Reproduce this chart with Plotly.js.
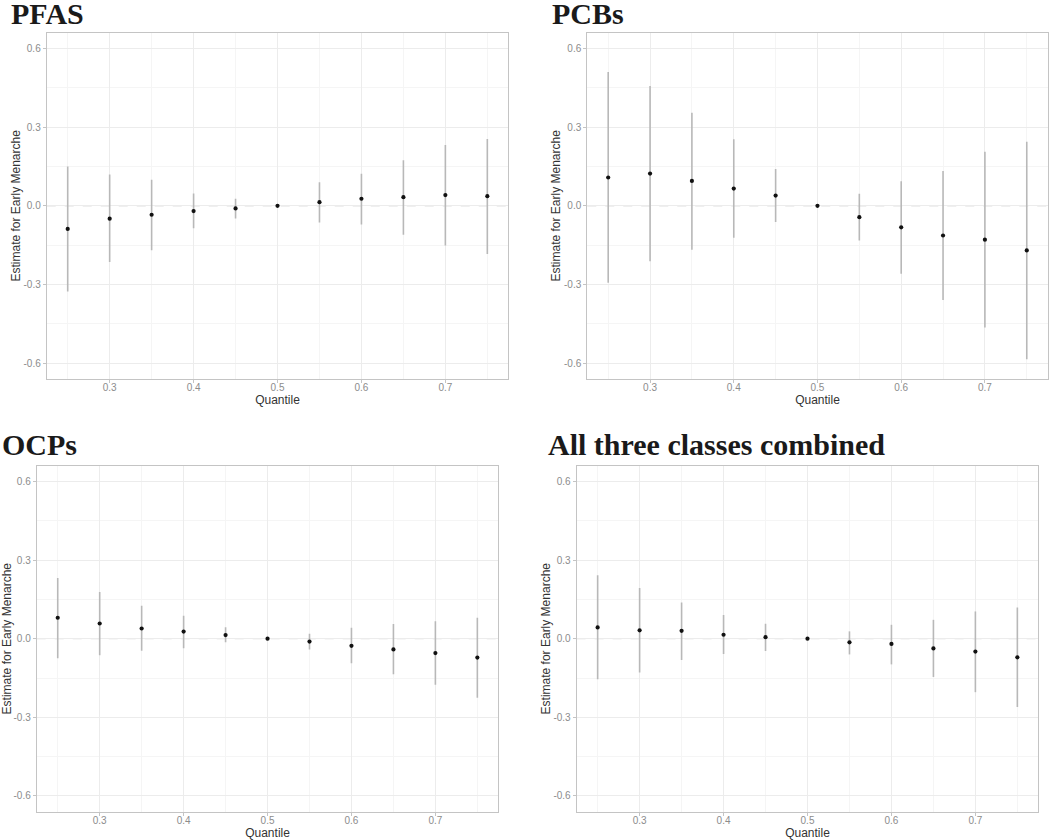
<!DOCTYPE html>
<html>
<head>
<meta charset="utf-8">
<script src="https://cdn.plot.ly/plotly-3.0.1.min.js"></script>
<style>
  html, body { margin: 0; padding: 0; background: #fff; }
  #chart { width: 1050px; height: 840px; }
</style>
</head>
<body>
<div id="chart"></div>
<script>
// Quantile g-computation estimates.
const QUANTILES = [0.25, 0.30, 0.35, 0.40, 0.45, 0.50, 0.55, 0.60, 0.65, 0.70, 0.75];

const PFAS_EST = [-0.088, -0.049, -0.034, -0.020, -0.010, 0, 0.014, 0.027, 0.033, 0.041, 0.037];
const PFAS_LO  = [-0.326, -0.214, -0.169, -0.085, -0.048, 0, -0.063, -0.071, -0.110, -0.151, -0.184];
const PFAS_HI  = [0.150, 0.119, 0.099, 0.047, 0.027, 0, 0.090, 0.122, 0.174, 0.232, 0.255];

const PCB_EST = [0.108, 0.123, 0.095, 0.066, 0.039, 0, -0.043, -0.082, -0.113, -0.129, -0.170];
const PCB_LO  = [-0.293, -0.211, -0.167, -0.122, -0.062, 0, -0.132, -0.259, -0.359, -0.464, -0.585];
const PCB_HI  = [0.510, 0.457, 0.355, 0.254, 0.140, 0, 0.046, 0.094, 0.133, 0.206, 0.244];

const OCP_EST = [0.080, 0.058, 0.039, 0.027, 0.014, 0, -0.011, -0.027, -0.041, -0.055, -0.072];
const OCP_LO  = [-0.075, -0.063, -0.046, -0.036, -0.014, 0, -0.041, -0.094, -0.136, -0.176, -0.225];
const OCP_HI  = [0.232, 0.178, 0.126, 0.088, 0.044, 0, 0.019, 0.042, 0.056, 0.067, 0.080];

const ALL_EST = [0.043, 0.032, 0.030, 0.015, 0.006, 0, -0.014, -0.020, -0.037, -0.049, -0.071];
const ALL_LO  = [-0.155, -0.129, -0.081, -0.058, -0.047, 0, -0.060, -0.098, -0.146, -0.204, -0.261];
const ALL_HI  = [0.242, 0.193, 0.138, 0.090, 0.057, 0, 0.028, 0.053, 0.072, 0.104, 0.119];

const PANEL_TITLES = ['PFAS', 'PCBs', 'OCPs', 'All three classes combined'];

const X_TICKS = [0.3, 0.4, 0.5, 0.6, 0.7];
const X_TICK_LABELS = ['0.3', '0.4', '0.5', '0.6', '0.7'];
const X_MINOR = [0.25, 0.35, 0.45, 0.55, 0.65, 0.75];
const Y_TICKS = [-0.6, -0.3, 0, 0.3, 0.6];
const Y_TICK_LABELS = ['-0.6', '-0.3', '0.0', '0.3', '0.6'];
const Y_MINOR = [-0.45, -0.15, 0.15, 0.45];
const REF_LINE = 0;

const PANELS = [
  { est: PFAS_EST, lo: PFAS_LO, hi: PFAS_HI },
  { est: PCB_EST, lo: PCB_LO, hi: PCB_HI },
  { est: OCP_EST, lo: OCP_LO, hi: OCP_HI },
  { est: ALL_EST, lo: ALL_LO, hi: ALL_HI },
];

// plot-area placement of each panel (paper fractions)
const DOMAINS = [
  { x: [0.0445, 0.4841], y: [0.5488, 0.9611] },
  { x: [0.5593, 0.9978], y: [0.5488, 0.9611] },
  { x: [0.0350, 0.4746], y: [0.0337, 0.4456] },
  { x: [0.5492, 0.9889], y: [0.0337, 0.4456] },
];
const TITLE_POS = [
  { x: 0.0090, y: 0.9840 },
  { x: 0.5235, y: 0.9840 },
  { x: 0.0000, y: 0.4706 },
  { x: 0.5200, y: 0.4706 },
];

const C = {
  text: '#8c8c8c',
  title: '#333333',
  border: '#c4c4c4',
  grid: '#ececec',
  minor: '#f5f5f5',
  bar: '#b8b8b8',
  point: '#111111',
  ref: '#d0d0d0',
};

const traces = [];
const layout = {
  width: 1050, height: 840,
  margin: { l: 0, r: 0, t: 0, b: 0 },
  paper_bgcolor: '#ffffff',
  plot_bgcolor: '#ffffff',
  font: { family: 'Liberation Sans, Arial, sans-serif', size: 10, color: C.text },
  showlegend: false,
  annotations: [],
  shapes: [],
};

PANELS.forEach((p, i) => {
  const n = i === 0 ? '' : String(i + 1);
  const xa = 'x' + n, ya = 'y' + n;
  traces.push({
    type: 'scatter', mode: 'markers',
    x: QUANTILES, y: p.est,
    xaxis: xa, yaxis: ya,
    marker: { color: C.point, size: 4.2 },
    error_y: {
      type: 'data', symmetric: false,
      array: p.hi.map((h, k) => h - p.est[k]),
      arrayminus: p.est.map((e, k) => e - p.lo[k]),
      color: C.bar, thickness: 1.6, width: 0,
    },
    hoverinfo: 'x+y',
  });

  const axisCommon = {
    showline: true, mirror: true, linecolor: C.border, linewidth: 1,
    ticks: 'outside', ticklen: 3, tickcolor: C.border, tickwidth: 1,
    showgrid: true, gridcolor: C.grid, gridwidth: 1,
    zeroline: false,
    tickfont: { size: 10, color: C.text },
  };
  layout['xaxis' + n] = Object.assign({}, axisCommon, {
    domain: DOMAINS[i].x, anchor: ya,
    range: [0.225, 0.775],
    tickmode: 'array', tickvals: X_TICKS, ticktext: X_TICK_LABELS,
    ticklabelstandoff: -4,
    minor: { tickmode: 'array', tickvals: X_MINOR, showgrid: true, gridcolor: C.minor, gridwidth: 1, ticks: '' },
    title: { text: 'Quantile', font: { size: 12, color: C.title }, standoff: 1 },
  });
  layout['yaxis' + n] = Object.assign({}, axisCommon, {
    domain: DOMAINS[i].y, anchor: xa,
    range: [-0.66, 0.66],
    tickmode: 'array', tickvals: Y_TICKS, ticktext: Y_TICK_LABELS,
    minor: { tickmode: 'array', tickvals: Y_MINOR, showgrid: true, gridcolor: C.minor, gridwidth: 1, ticks: '' },
    title: { text: 'Estimate for Early Menarche', font: { size: 12, color: C.title }, standoff: 0 },
  });

  layout.shapes.push({
    type: 'line', xref: xa + ' domain', yref: ya,
    x0: 0, x1: 1, y0: REF_LINE, y1: REF_LINE,
    line: { color: C.ref, width: 1, dash: 'dash' },
    layer: 'below',
  });

  layout.annotations.push({
    text: '<b>' + PANEL_TITLES[i] + '</b>',
    xref: 'paper', yref: 'paper',
    x: TITLE_POS[i].x, y: TITLE_POS[i].y,
    xanchor: 'left', yanchor: 'middle',
    showarrow: false,
    font: { family: 'Liberation Serif, Times New Roman, serif', size: 30, color: '#1a1a1a' },
  });
});

Plotly.newPlot('chart', traces, layout, { displayModeBar: false, staticPlot: true });
</script>
</body>
</html>
